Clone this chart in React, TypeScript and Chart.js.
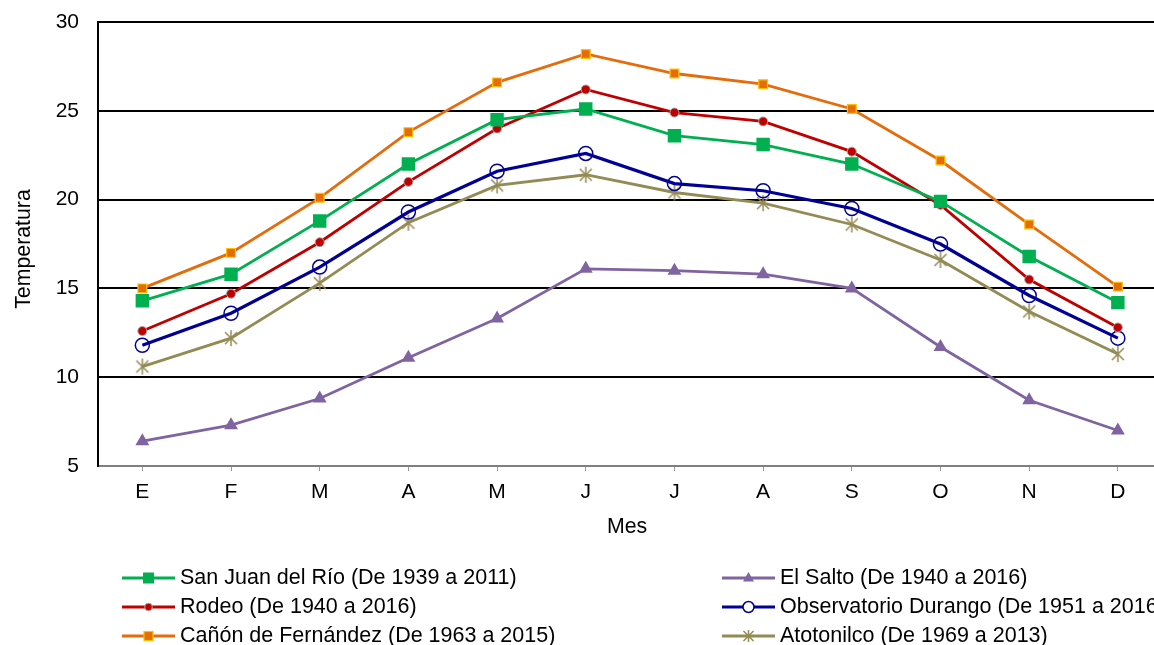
import React, { useEffect, useRef } from 'react';
import { Chart, registerables } from 'chart.js';

Chart.register(...registerables);

const months = ['E', 'F', 'M', 'A', 'M', 'J', 'J', 'A', 'S', 'O', 'N', 'D'];
const sanJuan = [14.3, 15.8, 18.8, 22.0, 24.5, 25.1, 23.6, 23.1, 22.0, 19.9, 16.8, 14.2];
const rodeo = [12.6, 14.7, 17.6, 21.0, 24.0, 26.2, 24.9, 24.4, 22.7, 19.7, 15.5, 12.8];
const canon = [15.0, 17.0, 20.1, 23.8, 26.6, 28.2, 27.1, 26.5, 25.1, 22.2, 18.6, 15.1];
const elSalto = [6.4, 7.3, 8.8, 11.1, 13.3, 16.1, 16.0, 15.8, 15.0, 11.7, 8.7, 7.0];
const observatorio = [11.8, 13.6, 16.2, 19.3, 21.6, 22.6, 20.9, 20.5, 19.5, 17.5, 14.6, 12.2];
const atotonilco = [10.6, 12.2, 15.3, 18.7, 20.8, 21.4, 20.4, 19.8, 18.6, 16.6, 13.7, 11.3];
const seriesNames = [
  'San Juan del Río (De 1939 a 2011)',
  'Rodeo (De 1940 a 2016)',
  'Cañón de Fernández (De 1963 a 2015)',
  'El Salto (De 1940 a 2016)',
  'Observatorio Durango (De 1951 a 2016)',
  'Atotonilco (De 1969 a 2013)',
];
const yTitle = 'Temperatura';
const xTitle = 'Mes';

const FONT = 'Arial, "Liberation Sans", sans-serif';
const GREEN = '#00B050';
const RED = '#C00000';
const ORANGE = '#E46C0A';
const PURPLE = '#8064A2';
const NAVY = '#000096';
const OLIVE = '#948A54';

function makeStar(size: number, color: string) {
  const c = document.createElement('canvas');
  c.width = size;
  c.height = size;
  const g = c.getContext('2d')!;
  const h = size / 2;
  const r = h - 1;
  g.strokeStyle = color;
  g.lineWidth = 1.5;
  g.beginPath();
  g.moveTo(h, h - r);
  g.lineTo(h, h + r);
  const d = r * 0.75;
  g.moveTo(h - d, h - d);
  g.lineTo(h + d, h + d);
  g.moveTo(h + d, h - d);
  g.lineTo(h - d, h + d);
  g.stroke();
  return c;
}

function drawMarker(ctx: CanvasRenderingContext2D, kind: string, x: number, y: number) {
  ctx.save();
  if (kind === 'sq') {
    ctx.fillStyle = GREEN;
    ctx.fillRect(x - 5.5, y - 5.5, 11, 11);
  } else if (kind === 'dot') {
    ctx.beginPath();
    ctx.arc(x, y, 3.8, 0, Math.PI * 2);
    ctx.fillStyle = RED;
    ctx.fill();
    ctx.strokeStyle = '#A6A6A6';
    ctx.lineWidth = 1;
    ctx.stroke();
  } else if (kind === 'osq') {
    ctx.fillStyle = ORANGE;
    ctx.fillRect(x - 4.5, y - 4.5, 9, 9);
    ctx.strokeStyle = '#FFC000';
    ctx.lineWidth = 1.2;
    ctx.strokeRect(x - 4.5, y - 4.5, 9, 9);
  } else if (kind === 'tri') {
    ctx.fillStyle = PURPLE;
    ctx.beginPath();
    ctx.moveTo(x, y - 6);
    ctx.lineTo(x + 5.5, y + 3.5);
    ctx.lineTo(x - 5.5, y + 3.5);
    ctx.closePath();
    ctx.fill();
  } else if (kind === 'circ') {
    ctx.beginPath();
    ctx.arc(x, y, 5.5, 0, Math.PI * 2);
    ctx.fillStyle = '#fff';
    ctx.fill();
    ctx.strokeStyle = NAVY;
    ctx.lineWidth = 1.5;
    ctx.stroke();
  } else if (kind === 'star') {
    ctx.strokeStyle = OLIVE;
    ctx.lineWidth = 1.5;
    ctx.beginPath();
    ctx.moveTo(x, y - 6);
    ctx.lineTo(x, y + 6);
    ctx.moveTo(x - 5, y - 5);
    ctx.lineTo(x + 5, y + 5);
    ctx.moveTo(x + 5, y - 5);
    ctx.lineTo(x - 5, y + 5);
    ctx.stroke();
  }
  ctx.restore();
}

const legendItems = [
  { name: seriesNames[0], color: GREEN, marker: 'sq', col: 0, row: 0 },
  { name: seriesNames[1], color: RED, marker: 'dot', col: 0, row: 1 },
  { name: seriesNames[2], color: ORANGE, marker: 'osq', col: 0, row: 2 },
  { name: seriesNames[3], color: PURPLE, marker: 'tri', col: 1, row: 0 },
  { name: seriesNames[4], color: NAVY, marker: 'circ', col: 1, row: 1 },
  { name: seriesNames[5], color: OLIVE, marker: 'star', col: 1, row: 2 },
];

const decorPlugin = {
  id: 'decor',
  afterDraw(chart: any) {
    const ctx: CanvasRenderingContext2D = chart.ctx;
    const area = chart.chartArea;
    ctx.save();
    ctx.fillStyle = '#000';
    ctx.font = `21.3px ${FONT}`;
    ctx.textAlign = 'center';
    ctx.textBaseline = 'middle';
    ctx.fillText(xTitle, (area.left + area.right) / 2 - 3, 527);
    ctx.save();
    ctx.translate(24, 249);
    ctx.rotate(-Math.PI / 2);
    ctx.fillText(yTitle, 0, 0);
    ctx.restore();
    ctx.font = `21.5px ${FONT}`;
    const colX = [122, 722];
    const rowY = [578, 607, 636];
    legendItems.forEach((it) => {
      const x0 = colX[it.col];
      const y = rowY[it.row];
      ctx.strokeStyle = it.color;
      ctx.lineWidth = 2.8;
      ctx.beginPath();
      ctx.moveTo(x0, y);
      ctx.lineTo(x0 + 53, y);
      ctx.stroke();
      drawMarker(ctx, it.marker, x0 + 26.5, y);
      ctx.fillStyle = '#000';
      ctx.textAlign = 'left';
      ctx.textBaseline = 'middle';
      ctx.fillText(it.name, x0 + 58, y);
    });
    ctx.restore();
  },
};

export default function App() {
  const ref = useRef<HTMLCanvasElement>(null);
  useEffect(() => {
    const star = makeStar(18, OLIVE);
    const chart = new Chart(ref.current!, {
      type: 'line',
      data: {
        labels: months,
        datasets: [
          {
            label: seriesNames[0], data: sanJuan, borderColor: GREEN, backgroundColor: GREEN,
            borderWidth: 2.8, pointStyle: 'rect', pointRadius: 9.5, pointBorderWidth: 0,
            pointBackgroundColor: GREEN, pointBorderColor: GREEN,
          },
          {
            label: seriesNames[1], data: rodeo, borderColor: RED, backgroundColor: RED,
            borderWidth: 2.8, pointStyle: 'circle', pointRadius: 4.5, pointBorderWidth: 1,
            pointBackgroundColor: RED, pointBorderColor: '#A6A6A6',
          },
          {
            label: seriesNames[2], data: canon, borderColor: ORANGE, backgroundColor: ORANGE,
            borderWidth: 2.8, pointStyle: 'rect', pointRadius: 6.2, pointBorderWidth: 1.2,
            pointBackgroundColor: ORANGE, pointBorderColor: '#FFC000',
          },
          {
            label: seriesNames[3], data: elSalto, borderColor: PURPLE, backgroundColor: PURPLE,
            borderWidth: 2.8, pointStyle: 'triangle', pointRadius: 8, pointBorderWidth: 0,
            pointBackgroundColor: PURPLE, pointBorderColor: PURPLE,
          },
          {
            label: seriesNames[4], data: observatorio, borderColor: NAVY, backgroundColor: NAVY,
            borderWidth: 3.2, pointStyle: 'circle', pointRadius: 7, pointBorderWidth: 1.5,
            pointBackgroundColor: 'rgba(0,0,0,0)', pointBorderColor: NAVY,
          },
          {
            label: seriesNames[5], data: atotonilco, borderColor: OLIVE, backgroundColor: OLIVE,
            borderWidth: 2.8, pointStyle: star as any, pointRadius: 9,
          },
        ],
      },
      options: {
        responsive: true,
        maintainAspectRatio: false,
        animation: false,
        layout: { padding: { top: 22, right: 4, left: 0, bottom: 0 } },
        plugins: {
          legend: { display: false },
          tooltip: { enabled: false },
        },
        scales: {
          x: {
            offset: true,
            grid: {
              display: true,
              drawOnChartArea: false,
              drawTicks: true,
              tickLength: 5,
              tickColor: '#999',
              tickWidth: 1,
              color: '#999',
            },
            border: { display: true, color: '#808080', width: 2 },
            ticks: { color: '#000', font: { family: FONT, size: 21 }, padding: 9, maxRotation: 0, autoSkip: false },
            afterFit: (s: any) => { s.height = 179; s.paddingLeft = 0; s.paddingRight = 0; },
          },
          y: {
            min: 5,
            max: 30,
            grid: {
              drawTicks: false,
              color: (c: any) => (c.tick && c.tick.value === 5 ? 'rgba(0,0,0,0)' : '#000'),
              lineWidth: 2,
            },
            border: { display: true, color: '#000', width: 2 },
            ticks: { stepSize: 5, color: '#000', font: { family: FONT, size: 21 }, padding: 19 },
            afterFit: (s: any) => { s.width = 98; s.paddingTop = 0; s.paddingBottom = 0; },
          },
        },
      },
      plugins: [decorPlugin],
    });
    return () => chart.destroy();
  }, []);
  return (
    <div style={{ position: 'fixed', left: 0, top: 0, width: 1154, height: 645, overflow: 'hidden', background: '#fff' }}>
      <div style={{ position: 'relative', width: 1174, height: 645 }}>
        <canvas ref={ref} />
      </div>
    </div>
  );
}
